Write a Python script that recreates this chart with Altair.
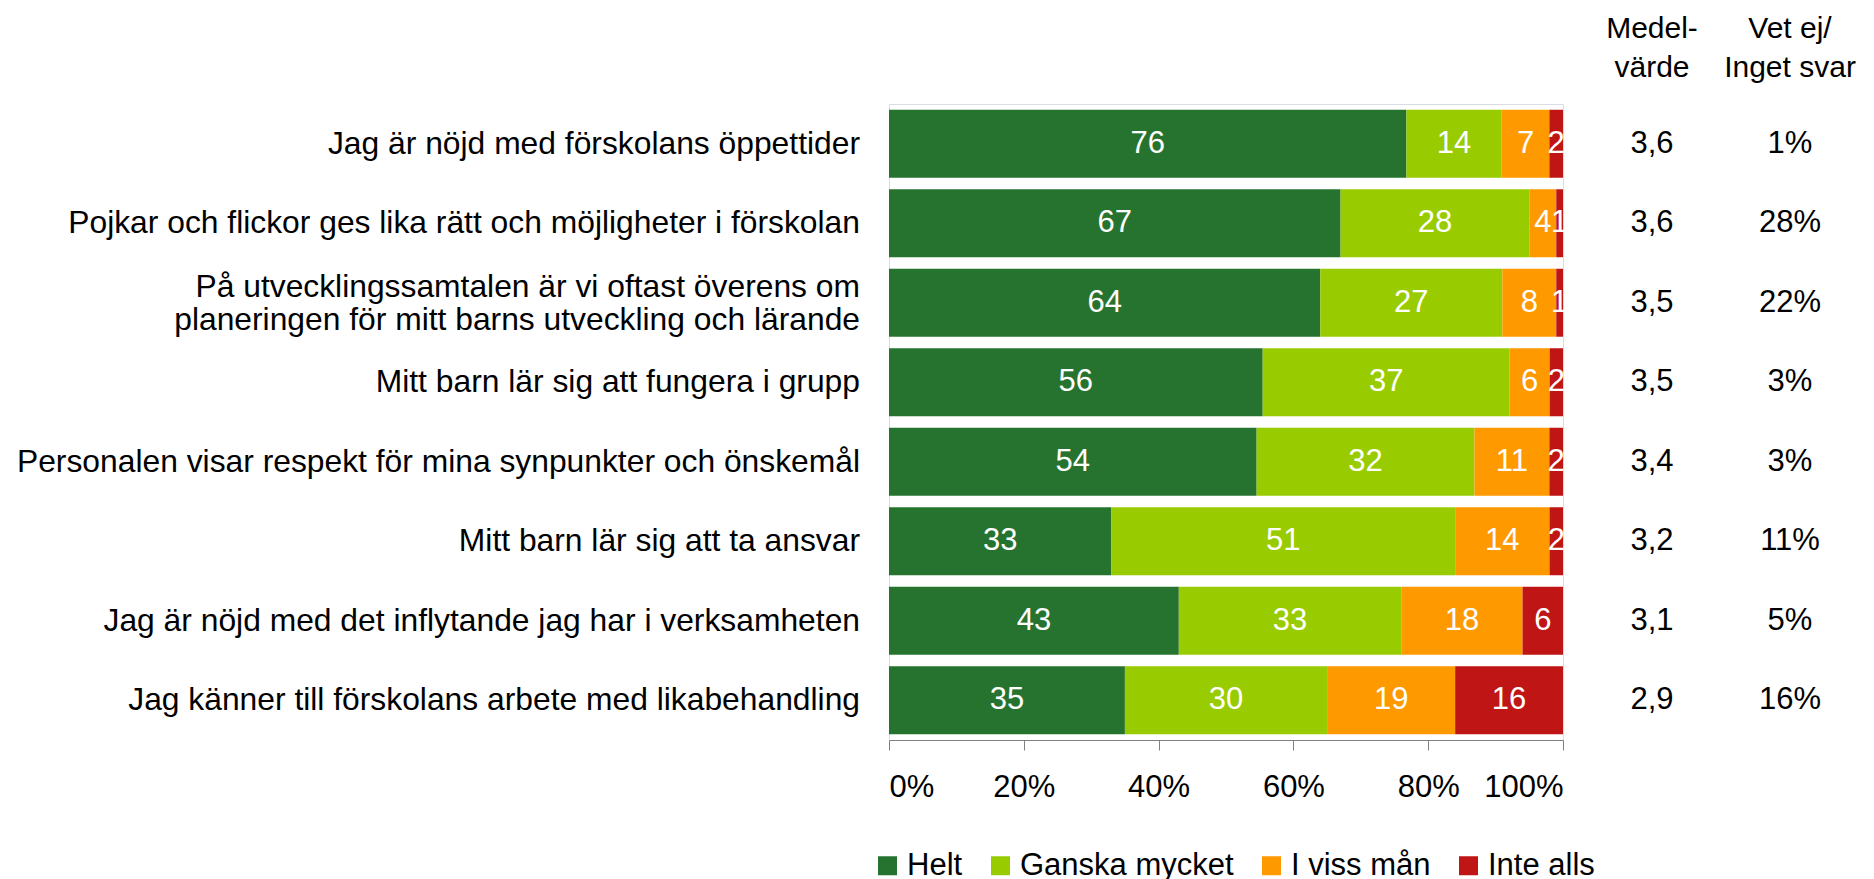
import altair as alt
import pandas as pd

questions = [
    "Jag är nöjd med förskolans öppettider",
    "Pojkar och flickor ges lika rätt och möjligheter i förskolan",
    "På utvecklingssamtalen är vi oftast överens om\nplaneringen för mitt barns utveckling och lärande",
    "Mitt barn lär sig att fungera i grupp",
    "Personalen visar respekt för mina synpunkter och önskemål",
    "Mitt barn lär sig att ta ansvar",
    "Jag är nöjd med det inflytande jag har i verksamheten",
    "Jag känner till förskolans arbete med likabehandling",
]
categories = ["Helt", "Ganska mycket", "I viss mån", "Inte alls"]
colors = ["#26732F", "#99CC00", "#FF9900", "#BF1515"]

helt = [76, 67, 64, 56, 54, 33, 43, 35]
ganska = [14, 28, 27, 37, 32, 51, 33, 30]
iviss = [7, 4, 8, 6, 11, 14, 18, 19]
inte = [2, 1, 1, 2, 2, 2, 6, 16]

medel = ["3,6", "3,6", "3,5", "3,5", "3,4", "3,2", "3,1", "2,9"]
vetej = ["1%", "28%", "22%", "3%", "3%", "11%", "5%", "16%"]
headers = ["Medel-\nvärde", "Vet ej/\nInget svar"]
x_ticks = [0, 0.2, 0.4, 0.6, 0.8, 1.0]

FONT = "Liberation Sans"

keys = [f"q{i}" for i in range(len(questions))]
rows = []
for i, k in enumerate(keys):
    for j, (cat, vals) in enumerate(zip(categories, [helt, ganska, iviss, inte])):
        rows.append({"key": k, "category": cat, "order": j, "value": vals[i]})
long_df = pd.DataFrame(rows)
side_df = pd.DataFrame({
    "key": keys, "label": questions, "medel": medel, "vetej": vetej,
    "multi": ["\n" in q for q in questions],
})

yenc = alt.Y("key:N", sort=keys, axis=None,
             scale=alt.Scale(paddingInner=0.145, paddingOuter=0.0725))

base = alt.Chart(long_df).transform_stack(
    stack="value", as_=["v0", "v1"], groupby=["key"],
    sort=[alt.SortField("order", "ascending")], offset="normalize"
)

bars = base.mark_bar().encode(
    x=alt.X("v0:Q", scale=alt.Scale(domain=[0, 1], nice=False, zero=True),
            axis=alt.Axis(values=x_ticks, format=".0%", title=None, grid=False,
                          labelFontSize=31, labelColor="black", labelPadding=22,
                          tickSize=10, tickColor="#808080", domainColor="#808080",
                          labelFont=FONT)),
    x2="v1:Q",
    y=yenc,
    color=alt.Color("category:N", sort=categories,
                    scale=alt.Scale(domain=categories, range=colors),
                    legend=alt.Legend(orient="none", legendX=-17, legendY=746,
                                      direction="horizontal", title=None,
                                      labelFontSize=31, labelFont=FONT,
                                      labelLimit=500, labelColor="black",
                                      symbolType="square", symbolSize=361,
                                      symbolStrokeWidth=0, symbolOpacity=1,
                                      columnPadding=22, labelOffset=4, padding=0)),
)

bar_text = base.transform_calculate(mid="(datum.v0 + datum.v1) / 2").mark_text(
    color="white", fontSize=31, font=FONT, baseline="middle", align="center"
).encode(
    x=alt.X("mid:Q"),
    y=yenc,
    text=alt.Text("value:Q"),
)

side = alt.Chart(side_df)
labels_single = side.transform_filter("!datum.multi").mark_text(
    align="right", baseline="middle", fontSize=31.8, font=FONT, color="black"
).encode(x=alt.value(-29), y=yenc, text="label:N")
labels_multi = side.transform_filter("datum.multi").mark_text(
    align="right", baseline="middle", fontSize=31.8, font=FONT, color="black",
    lineBreak="\n", lineHeight=33.5, dy=-16
).encode(x=alt.value(-29), y=yenc, text="label:N")
medel_t = side.mark_text(align="center", baseline="middle", fontSize=31, font=FONT,
                         color="black").encode(
    x=alt.value(763), y=yenc, text="medel:N")
vet_t = side.mark_text(align="center", baseline="middle", fontSize=31, font=FONT,
                       color="black").encode(
    x=alt.value(901), y=yenc, text="vetej:N")

hdr1 = alt.Chart(pd.DataFrame({"t": [headers[0]]})).mark_text(
    align="center", baseline="alphabetic", fontSize=30, font=FONT,
    lineBreak="\n", lineHeight=39, color="black").encode(
    x=alt.value(763), y=alt.value(-66), text="t:N")
hdr2 = alt.Chart(pd.DataFrame({"t": [headers[1]]})).mark_text(
    align="center", baseline="alphabetic", fontSize=30, font=FONT,
    lineBreak="\n", lineHeight=39, color="black").encode(
    x=alt.value(901), y=alt.value(-66), text="t:N")

chart = alt.layer(bars, bar_text, labels_single, labels_multi, medel_t, vet_t,
                  hdr1, hdr2).properties(
    width=674, height=636,
    autosize=alt.AutoSizeParams(type="none"),
    padding={"left": 881, "top": 96, "right": 297, "bottom": 145},
).configure(font=FONT).configure_view(stroke="#D9DCE3", strokeWidth=1)

chart.save("out.html", embed_options={"renderer": "svg", "actions": False})
